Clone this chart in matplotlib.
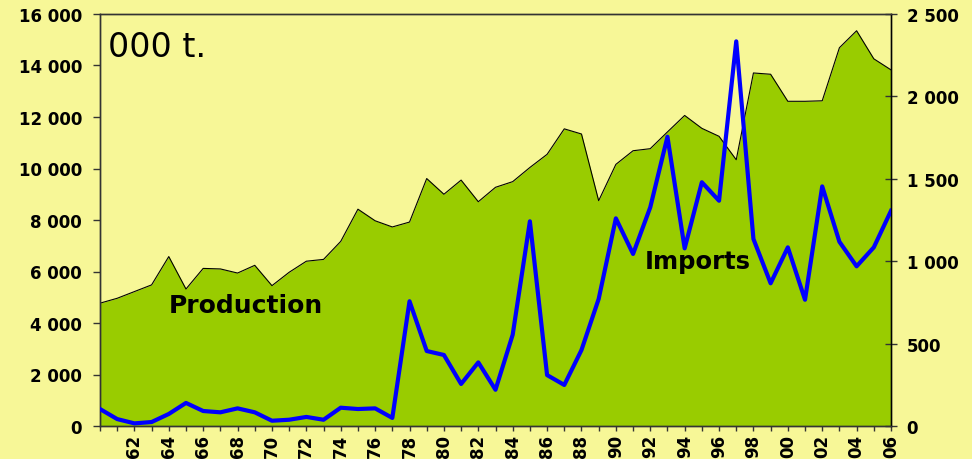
import matplotlib
matplotlib.use("Agg")
import matplotlib.pyplot as plt
from matplotlib.ticker import FuncFormatter

years = list(range(1960, 2007))

production = [
    4770, 4960, 5220, 5480, 6580, 5320, 6120, 6100, 5940, 6240,
    5450, 5970, 6400, 6470, 7170, 8420, 7970, 7730, 7920, 9610,
    9000, 9550, 8710, 9270, 9490, 10040, 10550, 11540, 11340, 8750,
    10160, 10690, 10770, 11420, 12060, 11560, 11250, 10340, 13710, 13660,
    12610, 12610, 12630, 14690, 15350, 14260, 13830,
]

imports = [
    103, 42, 16, 24, 73, 140, 91, 83, 107, 83,
    32, 38, 55, 38, 111, 103, 107, 49, 757, 455,
    431, 255, 386, 220, 554, 1242, 309, 249, 461, 771,
    1260, 1044, 1327, 1755, 1078, 1479, 1367, 2334, 1135, 866,
    1084, 766, 1454, 1118, 969, 1084, 1306,
]

label_years = list(range(1962, 2007, 2))
left_ticks = list(range(0, 16001, 2000))
right_ticks = list(range(0, 2501, 500))

BG = "#F7F797"
GREEN = "#99CC00"
BLUE = "#0000FF"
FONT = "DejaVu Sans"


def thousands(v, _pos):
    return f"{v:,.0f}".replace(",", " ")


def plot():
    fig = plt.figure(figsize=(9.72, 4.6), dpi=100, facecolor=BG)
    ax = fig.add_axes([100 / 972, 1 - 427 / 460, 791 / 972, 412 / 460])
    ax.set_facecolor(BG)

    ax.fill_between(years, production, 0, color=GREEN, linewidth=0, zorder=1)
    ax.plot(years, production, color="black", linewidth=0.8, zorder=2)

    ax.set_xlim(1960, 2006)
    ax.set_ylim(0, 16000)
    ax.set_yticks(left_ticks)
    ax.yaxis.set_major_formatter(FuncFormatter(thousands))

    ax.set_xticks(label_years)
    ax.set_xticklabels([f"{y % 100:02d}" for y in label_years], rotation=90)
    ax.set_xticks(years, minor=True)
    ax.tick_params(axis="x", which="both", direction="out", length=3.6,
                   width=1, color="#333333", pad=2)
    ax.tick_params(axis="y", direction="out", length=5, width=1,
                   color="#333333", pad=8)

    ax2 = ax.twinx()
    ax2.plot(years, imports, color=BLUE, linewidth=3, zorder=3)
    ax2.set_ylim(0, 2500)
    ax2.set_yticks(right_ticks)
    ax2.yaxis.set_major_formatter(FuncFormatter(thousands))
    ax2.tick_params(axis="y", direction="inout", length=8.5, width=1,
                    color="#333333", pad=7)

    for a in (ax, ax2):
        for lbl in a.get_xticklabels() + a.get_yticklabels():
            lbl.set_fontfamily(FONT)
            lbl.set_fontweight("bold")
            lbl.set_fontsize(12)
        for s in a.spines.values():
            s.set_color("#333333")
            s.set_linewidth(1)
    ax2.spines["right"].set_color("black")

    ax.text(1960.47, 14370, "000 t.", fontsize=24, family=FONT,
            va="baseline", ha="left")
    ax.text(1964.0, 4430, "Production", fontsize=18, family=FONT,
            fontweight="bold", va="baseline", ha="left", zorder=5)
    ax2.text(1991.7, 6135 * 2500 / 16000, "Imports", fontsize=17.5, family=FONT,
             fontweight="bold", va="baseline", ha="left", zorder=5)

    return fig


def main():
    fig = plot()
    fig.savefig("out.png", dpi=100, facecolor=BG)


if __name__ == "__main__":
    main()
